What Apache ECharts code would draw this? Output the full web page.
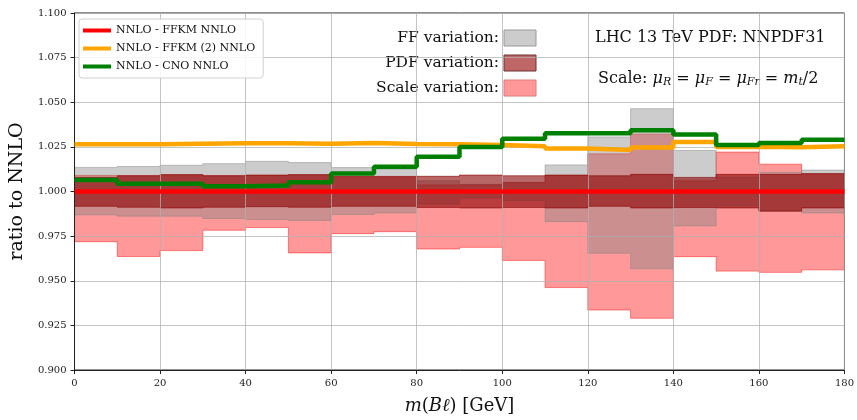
<!DOCTYPE html>
<html>
<head>
<meta charset="utf-8">
<script src="https://cdn.jsdelivr.net/npm/echarts@6/dist/echarts.min.js"></script>
<style>
  html, body { margin: 0; padding: 0; background: #fff; }
  #chart { width: 857px; height: 420px; }
</style>
</head>
<body>
<div id="chart"></div>
<script>
// bin edges of m(Bl) in GeV
const binEdges = [0, 10, 20, 30, 40, 50, 60, 70, 80, 90, 100, 110, 120, 130, 140, 150, 160, 170, 180]
const yTicks = [0.900, 0.925, 0.950, 0.975, 1.000, 1.025, 1.050, 1.075, 1.100]

// ratios to NNLO, one value per bin
const ffkmRatio = [1, 1, 1, 1, 1, 1, 1, 1, 1, 1, 1, 1, 1, 1, 1, 1, 1, 1]
const ffkm2Ratio = [1.0265, 1.0265, 1.0268, 1.0270, 1.0270, 1.0268, 1.0272, 1.0266, 1.0265,
    1.0260, 1.0254, 1.0241, 1.0233, 1.0246, 1.0278, 1.0250, 1.0248, 1.0254]
const cnoRatio = [1.0064, 1.0043, 1.0043, 1.0030, 1.0034, 1.0052, 1.0101, 1.0138, 1.0195,
    1.0250, 1.0296, 1.0326, 1.0326, 1.0343, 1.0319, 1.0260, 1.0272, 1.0290]

// uncertainty bands
const ffLow = [0.9869, 0.9862, 0.9862, 0.9849, 0.9843, 0.9838, 0.9871, 0.9880, 0.9930,
    0.9963, 0.9950, 0.9831, 0.9654, 0.9567, 0.9807, 0.9920, 0.9890, 0.9880]
const ffHigh = [1.0135, 1.0140, 1.0147, 1.0156, 1.0169, 1.0162, 1.0134, 1.0123, 1.0060,
    1.0040, 1.0050, 1.0149, 1.0306, 1.0464, 1.0230, 1.0080, 1.0108, 1.0120]
const pdfLow = [0.9917, 0.9912, 0.9908, 0.9912, 0.9915, 0.9912, 0.9917, 0.9917, 0.9910,
    0.9908, 0.9910, 0.9908, 0.9917, 0.9908, 0.9910, 0.9908, 0.9890, 0.9908]
const pdfHigh = [1.0079, 1.0088, 1.0095, 1.0088, 1.0092, 1.0095, 1.0083, 1.0083, 1.0085,
    1.0092, 1.0088, 1.0092, 1.0088, 1.0096, 1.0079, 1.0096, 1.0096, 1.0101]
const scaleLow = [0.9719, 0.9636, 0.9669, 0.9783, 0.9798, 0.9656, 0.9764, 0.9775, 0.9678,
    0.9687, 0.9614, 0.9462, 0.9336, 0.9290, 0.9635, 0.9554, 0.9547, 0.9561]
const scaleHigh = [1.0090, 1.0090, 1.0090, 1.0090, 1.0090, 1.0090, 1.0085, 1.0085, 1.0037,
    1.0037, 1.0050, 1.0090, 1.0211, 1.0321, 1.0060, 1.0221, 1.0153, 1.0095]

const serif = '"DejaVu Serif", "Liberation Serif", serif'

function stepData(values) {
    let pts = values.map((v, i) => [binEdges[i], v])
    pts.push([binEdges[binEdges.length - 1], values[values.length - 1]])
    return pts
}

function bandSeries(name, low, high, fill, stroke, z) {
    return {
        name: name,
        type: 'custom',
        z: z,
        silent: true,
        data: low.map((v, i) => [binEdges[i], v, high[i]]),
        encode: { x: 0, y: [1, 2] },
        renderItem: (params, api) => {
            if (params.dataIndex !== 0) {
                return null
            }
            let upper = []
            let lower = []
            for (let i = 0; i < low.length; i++) {
                upper.push(api.coord([binEdges[i], high[i]]))
                upper.push(api.coord([binEdges[i + 1], high[i]]))
                lower.push(api.coord([binEdges[i], low[i]]))
                lower.push(api.coord([binEdges[i + 1], low[i]]))
            }
            return {
                type: 'polygon',
                shape: { points: upper.concat(lower.reverse()) },
                style: { fill: fill, stroke: stroke, lineWidth: 1 }
            }
        }
    }
}

function lineSeries(name, values, color, z) {
    return {
        name: name,
        type: 'line',
        step: 'end',
        z: z,
        symbol: 'none',
        data: stepData(values),
        lineStyle: { color: color, width: 4.5 },
        itemStyle: { color: color }
    }
}

let chart = echarts.init(document.getElementById('chart'))

chart.setOption({
    animation: false,
    grid: {
        left: 73, right: 11, top: 13, bottom: 46,
        show: true, borderColor: '#222', borderWidth: 1, backgroundColor: 'transparent'
    },
    legend: {
        orient: 'vertical',
        left: 79, top: 19,
        padding: [6, 8, 6, 4],
        itemGap: 7,
        itemWidth: 28, itemHeight: 4,
        icon: 'rect',
        backgroundColor: 'rgba(255,255,255,0.85)',
        borderColor: '#d0d0d0', borderWidth: 1, borderRadius: 3,
        textStyle: { fontFamily: serif, fontSize: 11, color: '#111' },
        data: ['NNLO - FFKM NNLO', 'NNLO - FFKM (2) NNLO', 'NNLO - CNO NNLO']
    },
    xAxis: {
        type: 'value',
        min: 0, max: 180, interval: 20,
        name: '{i|m}({i|Bℓ}) [GeV]',
        nameLocation: 'middle',
        nameGap: 27,
        nameTextStyle: {
            fontFamily: serif, fontSize: 18, color: '#111',
            rich: {
                i: { fontFamily: serif, fontSize: 18, fontStyle: 'italic', color: '#111' }
            }
        },
        axisLine: { show: true, onZero: false, lineStyle: { color: '#222', width: 1 } },
        axisTick: { show: true, length: 4, lineStyle: { color: '#222' } },
        axisLabel: { fontFamily: serif, fontSize: 10, color: '#222', margin: 8 },
        splitLine: { show: true, lineStyle: { color: 'rgba(176,176,176,0.75)', width: 1 } }
    },
    yAxis: {
        type: 'value',
        min: yTicks[0], max: yTicks[yTicks.length - 1], interval: 0.025,
        name: 'ratio to NNLO',
        nameLocation: 'middle',
        nameGap: 31,
        nameTextStyle: { fontFamily: serif, fontSize: 19, color: '#111' },
        axisLine: { show: true, onZero: false, lineStyle: { color: '#222', width: 1 } },
        axisTick: { show: true, length: 4, lineStyle: { color: '#222' } },
        axisLabel: {
            fontFamily: serif, fontSize: 10, color: '#222', margin: 8,
            formatter: (v) => v.toFixed(3)
        },
        splitLine: { show: true, lineStyle: { color: 'rgba(176,176,176,0.75)', width: 1 } }
    },
    graphic: [
        {
            type: 'text', x: 499, y: 38,
            style: { text: 'FF variation:', font: '15.5px ' + serif, fill: '#111', align: 'right', verticalAlign: 'middle' }
        },
        {
            type: 'text', x: 499, y: 63,
            style: { text: 'PDF variation:', font: '15.5px ' + serif, fill: '#111', align: 'right', verticalAlign: 'middle' }
        },
        {
            type: 'text', x: 499, y: 88,
            style: { text: 'Scale variation:', font: '15.5px ' + serif, fill: '#111', align: 'right', verticalAlign: 'middle' }
        },
        {
            type: 'rect', shape: { x: 504, y: 30, width: 32, height: 16 },
            style: { fill: '#cccccc', stroke: '#999999', lineWidth: 1 }
        },
        {
            type: 'rect', shape: { x: 504, y: 55, width: 32, height: 16 },
            style: { fill: '#bf6666', stroke: '#6e3030', lineWidth: 1 }
        },
        {
            type: 'rect', shape: { x: 504, y: 80, width: 32, height: 16 },
            style: { fill: '#ff9999', stroke: '#e07a7a', lineWidth: 1 }
        },
        {
            type: 'text', x: 595, y: 38,
            style: { text: 'LHC 13 TeV PDF: NNPDF31', font: '16px ' + serif, fill: '#111', verticalAlign: 'middle' }
        },
        {
            type: 'text', x: 598, y: 79,
            style: {
                text: 'Scale: {i|μ}{s|R} = {i|μ}{s|F} = {i|μ}{s|Fr} = {i|m}{s|t}/2',
                font: '16px ' + serif, fill: '#111', verticalAlign: 'middle',
                rich: {
                    i: { fontFamily: serif, fontSize: 16, fontStyle: 'italic' },
                    s: { fontFamily: serif, fontSize: 11, fontStyle: 'italic', padding: [6, 0, 0, 0] }
                }
            }
        }
    ],
    series: [
        bandSeries('Scale variation', scaleLow, scaleHigh, 'rgba(255,0,0,0.4)', 'rgba(255,0,0,0.45)', -3),
        bandSeries('FF variation', ffLow, ffHigh, 'rgba(128,128,128,0.4)', 'rgba(128,128,128,0.45)', -2),
        bandSeries('PDF variation', pdfLow, pdfHigh, 'rgba(139,0,0,0.6)', 'rgba(139,0,0,0.6)', -1),
        lineSeries('NNLO - FFKM NNLO', ffkmRatio, '#ff0000', 3),
        lineSeries('NNLO - FFKM (2) NNLO', ffkm2Ratio, '#ffa500', 4),
        lineSeries('NNLO - CNO NNLO', cnoRatio, '#008000', 5)
    ]
})
</script>
</body>
</html>
